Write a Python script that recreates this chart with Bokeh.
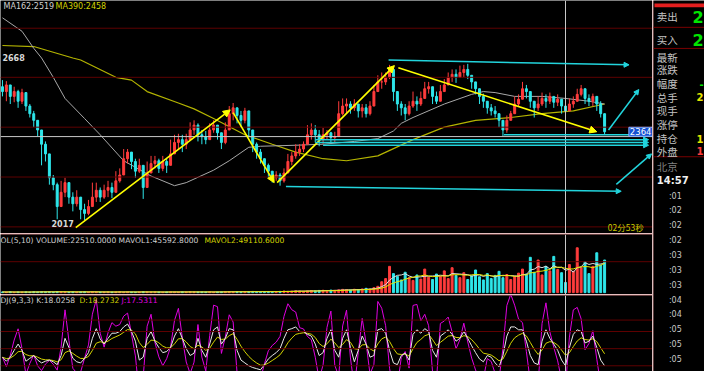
import numpy as np
import pandas as pd
from bokeh.plotting import figure
from bokeh.models import ColumnDataSource, Range1d, Span, Label, Arrow, NormalHead
from bokeh.layouts import row, column
from bokeh.embed import file_html
from bokeh.resources import INLINE

# ---------------- data ----------------
first_open = 2541
close_ = [2522, 2548, 2503, 2522, 2484, 2518, 2465, 2435, 2409, 2371,
          2315, 2277, 2183, 2156, 2070, 2126, 2164, 2107, 2081, 2107,
          2058, 2043, 2070, 2107, 2134, 2107, 2134, 2145, 2126, 2171,
          2194, 2258, 2284, 2247, 2209, 2232, 2145, 2202, 2239, 2250,
          2220, 2247, 2232, 2277, 2322, 2333, 2315, 2333, 2371, 2390,
          2352, 2345, 2333, 2371, 2390, 2360, 2322, 2371, 2435, 2458,
          2428, 2409, 2446, 2371, 2315, 2284, 2258, 2232, 2209, 2183,
          2194, 2171, 2202, 2247, 2269, 2284, 2296, 2315, 2352, 2371,
          2352, 2333, 2352, 2360, 2341, 2345, 2435, 2465, 2473, 2458,
          2473, 2446, 2458, 2435, 2465, 2522, 2560, 2560, 2578, 2609,
          2522, 2473, 2458, 2435, 2465, 2484, 2473, 2495, 2533, 2541,
          2503, 2484, 2522, 2548, 2578, 2590, 2578, 2597, 2609, 2586,
          2560, 2533, 2503, 2484, 2458, 2446, 2435, 2409, 2371, 2409,
          2435, 2473, 2492, 2533, 2522, 2484, 2458, 2473, 2495, 2484,
          2503, 2480, 2492, 2465, 2446, 2473, 2484, 2511, 2533, 2495,
          2484, 2503, 2473, 2435, 2364]
high_ = [2567, 2563, 2541, 2541, 2529, 2533, 2511, 2473, 2446, 2401,
         2333, 2326, 2247, 2194, 2164, 2171, 2183, 2152, 2126, 2134,
         2096, 2081, 2096, 2164, 2164, 2145, 2156, 2171, 2164, 2209,
         2220, 2296, 2296, 2277, 2258, 2258, 2220, 2247, 2269, 2269,
         2258, 2269, 2258, 2333, 2352, 2356, 2352, 2356, 2401, 2409,
         2397, 2371, 2367, 2397, 2409, 2390, 2352, 2401, 2465, 2477,
         2458, 2446, 2458, 2409, 2352, 2322, 2296, 2258, 2239, 2209,
         2209, 2202, 2220, 2277, 2284, 2315, 2315, 2326, 2390, 2397,
         2390, 2371, 2379, 2371, 2364, 2364, 2484, 2495, 2495, 2484,
         2492, 2473, 2473, 2473, 2484, 2548, 2586, 2597, 2597, 2627,
         2616, 2522, 2484, 2473, 2484, 2522, 2503, 2522, 2560, 2560,
         2533, 2522, 2548, 2571, 2597, 2609, 2609, 2624, 2627, 2631,
         2586, 2560, 2533, 2514, 2484, 2473, 2465, 2435, 2409, 2428,
         2446, 2503, 2511, 2560, 2548, 2511, 2484, 2503, 2518, 2511,
         2518, 2503, 2511, 2492, 2473, 2495, 2503, 2533, 2548, 2522,
         2511, 2514, 2503, 2484, 2428]
low_ = [2503, 2484, 2473, 2480, 2458, 2473, 2446, 2420, 2382, 2345,
        2232, 2247, 2156, 2134, 2020, 2081, 2107, 2081, 2051, 2070,
        2020, 2017, 2036, 2081, 2088, 2088, 2100, 2107, 2103, 2145,
        2164, 2209, 2239, 2217, 2183, 2202, 2100, 2164, 2209, 2220,
        2202, 2209, 2202, 2239, 2277, 2296, 2284, 2296, 2333, 2352,
        2326, 2315, 2315, 2352, 2360, 2333, 2296, 2315, 2397, 2409,
        2397, 2382, 2397, 2341, 2284, 2258, 2239, 2202, 2183, 2164,
        2171, 2152, 2164, 2220, 2232, 2258, 2269, 2284, 2315, 2333,
        2322, 2307, 2315, 2333, 2322, 2322, 2352, 2428, 2435, 2435,
        2446, 2420, 2420, 2420, 2428, 2473, 2522, 2533, 2548, 2571,
        2484, 2446, 2428, 2409, 2428, 2458, 2446, 2465, 2503, 2514,
        2473, 2473, 2503, 2522, 2548, 2560, 2556, 2578, 2578, 2571,
        2533, 2511, 2473, 2458, 2435, 2428, 2420, 2382, 2345, 2360,
        2409, 2446, 2465, 2503, 2495, 2458, 2420, 2446, 2465, 2458,
        2473, 2458, 2465, 2435, 2420, 2446, 2458, 2484, 2503, 2473,
        2465, 2465, 2446, 2420, 2352]
volume = [1500, 1200, 1800, 900, 1400, 1100, 1600, 1300, 2000, 1500,
          2200, 1700, 1900, 1400, 2300, 1800, 1500, 1200, 1600, 1300,
          1700, 2100, 1400, 1800, 1500, 1100, 1300, 1600, 1200, 1500,
          1900, 1400, 1700, 1300, 1100, 1500, 2000, 1600, 1200, 1400,
          1300, 1100, 1500, 1800, 1600, 1300, 1700, 1400, 1900, 1500,
          1200, 1600, 1400, 1800, 1300, 1500, 1700, 2100, 2400, 1800,
          2000, 1600, 1900, 2300, 2600, 2100, 1800, 2200, 2500, 2000,
          2300, 2700, 3500, 2800, 3200, 4100, 3600, 3000, 3800, 4500,
          3900, 4800, 5200, 4300, 5600, 4900, 6100, 7200, 6500, 5800,
          7400, 6800, 8100, 9500, 7800, 11000, 14000, 24000, 31000, 58000,
          42000, 36000, 28000, 45000, 33000, 27000, 39000, 30000, 52000, 34000,
          29000, 41000, 36000, 48000, 31000, 55000, 38000, 33000, 44000, 29000,
          37000, 50000, 35000, 28000, 42000, 31000, 38000, 47000, 33000, 40000,
          29000, 36000, 43000, 52000, 41000, 78000, 45000, 72000, 39000, 58000,
          48000, 80000, 51000, 44000, 22510, 62000, 47000, 99000, 55000, 68000,
          42000, 58000, 88000, 61000, 72000]
k_line = [35, 28, 35, 47, 58, 47, 28, 33, 38, 30,
          25, 28, 30, 27, 22, 38, 68, 52, 33, 27,
          25, 33, 43, 68, 85, 67, 58, 68, 77, 77,
          80, 88, 93, 80, 63, 30, 35, 68, 80, 63,
          52, 43, 45, 52, 72, 85, 68, 50, 38, 42,
          68, 47, 35, 58, 83, 88, 58, 68, 85, 83,
          47, 30, 25, 20, 17, 15, 13, 22, 32, 38,
          43, 50, 68, 83, 85, 88, 80, 80, 75, 72,
          58, 38, 43, 68, 83, 47, 35, 68, 83, 52,
          27, 47, 72, 58, 35, 38, 83, 85, 77, 47,
          25, 22, 38, 42, 30, 75, 83, 77, 85, 80,
          47, 35, 72, 77, 83, 75, 63, 68, 80, 68,
          55, 43, 32, 27, 38, 35, 25, 18, 38, 72,
          88, 88, 83, 83, 63, 38, 25, 22, 63, 83,
          68, 58, 47, 30, 20, 52, 75, 83, 80, 60,
          63, 72, 52, 30, 20]

ma162_idx = [0, 5, 8, 10, 13, 16, 21, 25, 31, 38, 44, 47, 54, 58, 63, 66, 75, 82, 90, 96,
             100, 102, 105, 113, 120, 123, 126, 131, 138, 144, 150, 154]
ma162_val = [2812, 2759, 2692, 2654, 2578, 2495, 2416, 2352, 2250, 2190, 2152, 2164, 2213,
             2250, 2303, 2307, 2311, 2315, 2326, 2337, 2367, 2397, 2420, 2473, 2511, 2522,
             2518, 2503, 2503, 2495, 2484, 2473]
ma390_idx = [0, 8, 18, 20, 29, 33, 37, 45, 49, 54, 62, 69, 75, 82, 88, 96, 105, 113, 121,
             130, 138, 146, 154]
ma390_val = [2703, 2699, 2654, 2646, 2578, 2567, 2522, 2477, 2454, 2416, 2352, 2315, 2284,
             2258, 2250, 2269, 2333, 2382, 2409, 2420, 2435, 2446, 2473]

# trend arrows drawn on the price chart (bar index, price)
yel_x0 = [18.75, 59.0, 70.25, 101.25]
yel_y0 = [1987, 2439, 2164, 2616]
yel_x1 = [58.25, 69.5, 100.25, 152.0]
yel_y1 = [2450, 2164, 2624, 2364]
cyan_x0 = [98.75, 128.25, 80.0, 80.0, 82.0, 155.0, 157.0, 72.5]
cyan_y0 = [2646, 2352, 2333, 2322, 2311, 2371, 2157, 2149]
cyan_x1 = [160.25, 165.25, 165.25, 165.25, 165.25, 162.75, 166.0, 158.25]
cyan_y1 = [2627, 2352, 2333, 2322, 2311, 2530, 2277, 2130]

price_grid = [2771, 2578, 2382, 2186, 1990]
vol_grid = [68310]
kdj_grid = [100, 80, 50, 20]
cross_index = 144
cross_price = 2345
last_price = 2364
high_mark, low_mark = 2668, 2017

side_names = ["卖出", "买入", "最新", "涨跌", "幅度", "总手", "现手", "涨停", "持仓", "外盘"]
side_vals = ["2", "2", "", "", "-", "2", "", "", "1", "1"]
time_ticks = [":01", ":02", ":02", ":02", ":03", ":03", ":03", ":04", ":04", ":05", ":05", ":05"]

# ---------------- derived series ----------------
n = len(close_)
idx = np.arange(n)
open_ = np.array([first_open] + close_[:-1], dtype=float)
close_a = np.array(close_, dtype=float)
top = np.maximum(open_, close_a)
bot = np.minimum(open_, close_a)
hi = np.maximum(np.array(high_, float), top)
lo = np.minimum(np.array(low_, float), bot)
RED, CYAN = "#ff3c3c", "#2ee6ea"
colors = [RED if c >= o else CYAN for o, c in zip(open_, close_a)]

mavol1 = pd.Series(volume, dtype=float).rolling(5, min_periods=1).mean().values
mavol2 = pd.Series(volume, dtype=float).rolling(10, min_periods=1).mean().values

k = np.array(k_line, float)
d = np.zeros(n)
prev = k[0]
for t in range(n):
    prev = (2 * prev + k[t]) / 3.0
    d[t] = prev
j = 3 * k - 2 * d

# ---------------- figures ----------------
FONT = "DejaVu Sans"
CJK = "Noto Sans CJK SC"
GRID = "#5e0000"
SEP = "#9a0000"
X_RANGE = Range1d(-0.5, 166.25)


def panel(h, yr, top_border=0):
    p = figure(width=652, height=h, x_range=X_RANGE, y_range=yr, output_backend="svg",
               toolbar_location=None, tools="", x_axis_location=None, y_axis_location=None,
               background_fill_color="black", border_fill_color=SEP if top_border else "black",
               min_border=0, min_border_top=top_border, outline_line_color=None)
    p.xgrid.visible = False
    p.ygrid.visible = False
    return p


def hdr(p, x, y, text, color, size="8px"):
    p.add_layout(Label(x=x, y=y, x_units="screen", y_units="screen", text=text,
                       text_color=color, text_font=FONT, text_font_size=size,
                       text_baseline="middle"))


# main price panel
main = panel(233, Range1d(1964, 2880))
for lv in price_grid:
    main.add_layout(Span(location=lv, dimension="width", line_color=GRID, line_width=1))
main.line(ma390_idx, ma390_val, line_color="#b4b400", line_width=1.2)
main.line(ma162_idx, ma162_val, line_color="#a8a8a8", line_width=1)

src = ColumnDataSource(dict(i=idx, hi=hi, lo=lo, top=top, bot=bot, color=colors))
main.segment(x0="i", y0="hi", x1="i", y1="lo", line_color="color", line_width=1, source=src)
main.vbar(x="i", top="top", bottom="bot", width=0.5, fill_color="color", line_color="color",
          source=src)

main.add_layout(Span(location=cross_index, dimension="height", line_color="#c8c8c8", line_width=1))
main.add_layout(Span(location=cross_price, dimension="width", line_color="#c8c8c8", line_width=1))

ysrc = ColumnDataSource(dict(x0=yel_x0, y0=yel_y0, x1=yel_x1, y1=yel_y1))
main.add_layout(Arrow(end=NormalHead(size=7, fill_color="#ffff00", line_color="#ffff00"),
                      x_start="x0", y_start="y0", x_end="x1", y_end="y1", source=ysrc,
                      line_color="#ffff00", line_width=1.6))
csrc = ColumnDataSource(dict(x0=cyan_x0, y0=cyan_y0, x1=cyan_x1, y1=cyan_y1))
main.add_layout(Arrow(end=NormalHead(size=5, fill_color="#22d4dc", line_color="#22d4dc"),
                      x_start="x0", y_start="y0", x_end="x1", y_end="y1", source=csrc,
                      line_color="#22d4dc", line_width=1.5))

main.add_layout(Label(x=0, y=high_mark, text=str(high_mark), text_color="#d8d8d8",
                      text_font=FONT, text_font_size="8px", text_font_style="bold",
                      text_baseline="top"))
main.add_layout(Label(x=18.25, y=low_mark, text=str(low_mark), text_color="#d8d8d8",
                      text_font=FONT, text_font_size="8px", text_font_style="bold",
                      text_baseline="top", text_align="right"))
main.add_layout(Label(x=166.25, y=last_price, text=str(last_price), text_color="white",
                      text_font=FONT, text_font_size="8.5px", text_align="right",
                      text_baseline="middle", background_fill_color="#1450d2",
                      border_line_color="#8cb4ff", padding=1))
main.add_layout(Label(x=164, y=1990, text="02分53秒", text_color="#c8c800", text_font=CJK,
                      text_font_size="8.5px", text_align="right", text_baseline="middle"))
hdr(main, 3, 227, "MA162:2519", "#d0d0d0")
hdr(main, 55, 227, "MA390:2458", "#d2d200")

# volume panel
vol = panel(61, Range1d(-4140, 128340), top_border=1)
for lv in vol_grid:
    vol.add_layout(Span(location=lv, dimension="width", line_color=GRID, line_width=1))
vsrc = ColumnDataSource(dict(i=idx, v=volume, color=colors))
vol.vbar(x="i", top="v", bottom=0, width=0.5, fill_color="color", line_color="color",
         source=vsrc)
vol.line(idx, mavol1, line_color="#e0e0e0", line_width=1)
vol.line(idx, mavol2, line_color="#e6e600", line_width=1)
vol.add_layout(Span(location=cross_index, dimension="height", line_color="#c8c8c8", line_width=1))
hdr(vol, 0, 54, "OL(5,10) VOLUME:22510.0000 MAVOL1:45592.8000", "#d0d0d0", "7.6px")
hdr(vol, 204, 54, "MAVOL2:49110.6000", "#d2d200", "7.6px")

# KDJ panel
kdj = panel(77, Range1d(10, 143), top_border=1)
for lv in kdj_grid:
    kdj.add_layout(Span(location=lv, dimension="width", line_color=GRID, line_width=1))
kdj.line(idx, j, line_color="#e000e0", line_width=1)
kdj.line(idx, d, line_color="#d4d400", line_width=1)
kdj.line(idx, k, line_color="#e8e8e8", line_width=1)
kdj.add_layout(Span(location=cross_index, dimension="height", line_color="#c8c8c8", line_width=1))
hdr(kdj, 0, 71, "DJ(9,3,3) K:18.0258", "#d0d0d0", "7.6px")
hdr(kdj, 79, 71, "D:18.2732", "#d2d200", "7.6px")
hdr(kdj, 121, 71, "J:17.5311", "#e000e0", "7.6px")

# right quote panel
side = figure(width=52, height=371, x_range=Range1d(667, 720), y_range=Range1d(387, 0),
              output_backend="svg", toolbar_location=None, tools="", x_axis_location=None,
              y_axis_location=None, background_fill_color="black", border_fill_color="#7a0000",
              min_border=0, min_border_left=1, outline_line_color=None)
side.xgrid.visible = False
side.ygrid.visible = False
side.quad(left=668, right=720, top=3, bottom=7, fill_color="#e41e1e", line_color=None)
side.segment(x0=[667, 667, 667], y0=[28, 50, 163], x1=[720, 720, 720], y1=[28, 50, 163],
             line_color="#7a0000", line_width=1)
row_y = [17, 41, 59, 72, 87, 101, 115, 129, 144, 157]
val_col = ["#00e600", "#00e600", "#c0c0c0", "#c0c0c0", "#00e600", "#e6e600", "#c0c0c0",
           "#c0c0c0", "#e6e600", "#ff3c3c"]
for name, val, yy, col in zip(side_names, side_vals, row_y, val_col):
    side.add_layout(Label(x=670.5, y=yy, text=name, text_color="#c4c4c4", text_font=CJK,
                          text_font_size="10.5px", text_baseline="middle"))
    if val:
        big = yy < 50
        side.add_layout(Label(x=719, y=yy, text=val, text_color=col, text_font=FONT,
                              text_font_size="16px" if big else "10px",
                              text_font_style="bold", text_baseline="middle",
                              text_align="right"))
side.add_layout(Label(x=670.5, y=173, text="北京", text_color="#808080", text_font=CJK,
                      text_font_size="10.5px", text_baseline="middle"))
side.add_layout(Label(x=670.5, y=188, text="14:57", text_color="#f0f0f0", text_font=FONT,
                      text_font_size="10px", text_font_style="bold", text_baseline="middle"))
for t, lab in enumerate(time_ticks):
    side.add_layout(Label(x=683, y=204 + 15.5 * t, text=lab, text_color="#c8c8c8",
                          text_font=FONT, text_font_size="8px", text_baseline="middle"))

layout = row(column(main, vol, kdj), side)

html = file_html(layout, INLINE)
html = html.replace("<body>", '<body style="background-color:#000000;">', 1)
open("out.html", "w").write(html)
